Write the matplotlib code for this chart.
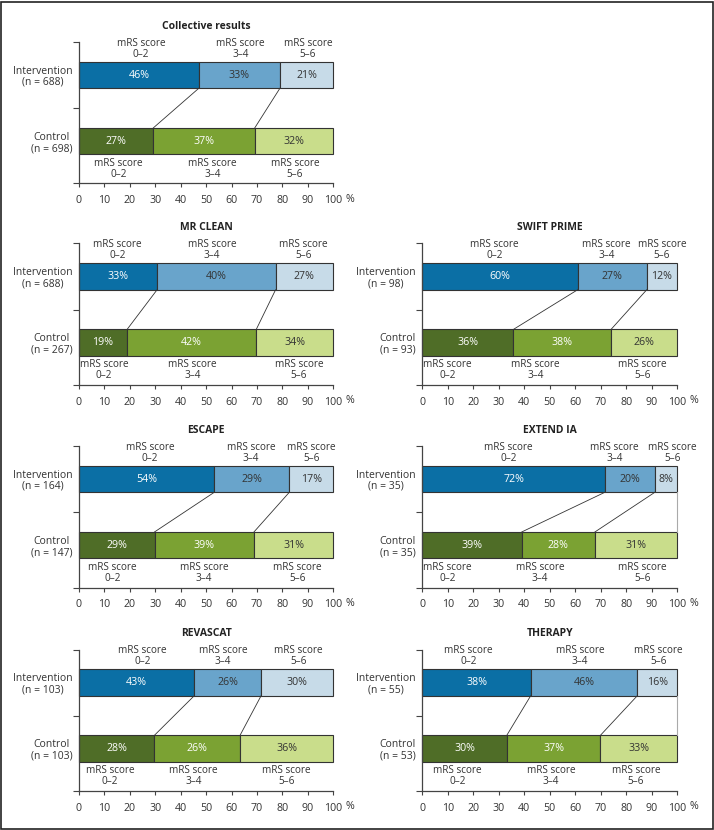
import matplotlib.pyplot as plt
from matplotlib.patches import Rectangle

plt.rcParams['font.family'] = ['Open Sans', 'DejaVu Sans']

# data
panels = ["Collective results", "MR CLEAN", "SWIFT PRIME", "ESCAPE",
          "EXTEND IA", "REVASCAT", "THERAPY"]
n_int = [688, 688, 98, 164, 35, 103, 55]
n_ctrl = [698, 267, 93, 147, 35, 103, 53]

# printed percentages
int_pct = [[46, 33, 21], [33, 40, 27], [60, 27, 12], [54, 29, 17],
           [72, 20, 8], [43, 26, 30], [38, 46, 16]]
ctrl_pct = [[27, 37, 32], [19, 42, 34], [36, 38, 26], [29, 39, 31],
            [39, 28, 31], [28, 26, 36], [30, 37, 33]]

# drawn segment widths (as measured on the bars)
int_width = [[47.1, 31.9, 21.0], [30.7, 46.6, 22.7], [60.9, 27.1, 12.0],
             [53.2, 29.5, 17.3], [71.6, 19.6, 8.8], [45.3, 26.3, 28.4],
             [42.5, 41.8, 15.7]]
ctrl_width = [[29.2, 39.9, 30.9], [18.9, 50.8, 30.3], [35.7, 38.3, 26.0],
              [29.7, 39.1, 31.2], [39.0, 28.7, 32.3], [29.6, 33.7, 36.7],
              [33.1, 36.7, 30.2]]

groups = ["0\u20132", "3\u20134", "5\u20136"]
xticks = [0, 10, 20, 30, 40, 50, 60, 70, 80, 90, 100]

# layout: where the "mRS score" captions sit (x in %)
int_lab_x = [[24.4, 63.6, 90.0], [15.1, 52.3, 88.2], [28.2, 72.3, 94.0],
             [27.9, 67.6, 91.3], [33.7, 75.3, 98.0], [24.9, 56.7, 86.2],
             [18.0, 61.8, 92.5]]
ctrl_lab_x = [[15.5, 52.4, 84.9], [9.8, 44.6, 86.5], [9.8, 44.4, 86.3],
              [13.2, 49.1, 86.0], [9.8, 46.1, 86.3], [12.2, 45.0, 81.6],
              [13.9, 50.5, 83.8]]
grid = [(0, 0), (0, 1), (1, 1), (0, 2), (1, 2), (0, 3), (1, 3)]
right_rule = [False, False, False, False, True, False, True]

blues = ['#0b6fa5', '#69a4cb', '#c7dbe8']
greens = ['#4f6d27', '#7ba233', '#c9dd8b']
int_txt = ['white', '#333333', '#333333']
ctrl_txt = ['white', 'white', '#333333']

W, H = 714, 830
col_left = [79, 422.3]
col_w = [254.3, 255]
row_top = [42, 243.5, 446, 649.5]
ax_h = 141.5
ylo, yhi = -0.64, 1.5
bh = 0.4
dark = '#333333'

fig = plt.figure(figsize=(W / 100, H / 100), dpi=100)

for i, name in enumerate(panels):
    c, r = grid[i]
    ax = fig.add_axes([col_left[c] / W, 1 - (row_top[r] + ax_h) / H,
                       col_w[c] / W, ax_h / H])

    li, lc = 0, 0
    bi, bc = [], []
    for k in range(3):
        ax.barh(1, int_width[i][k], left=li, height=bh, color=blues[k],
                edgecolor=dark, linewidth=0.8, clip_on=False)
        ax.text(li + int_width[i][k] / 2, 1, f"{int_pct[i][k]}%",
                ha='center', va='center', fontsize=7.7, color=int_txt[k])
        ax.barh(0, ctrl_width[i][k], left=lc, height=bh, color=greens[k],
                edgecolor=dark, linewidth=0.8, clip_on=False)
        ax.text(lc + ctrl_width[i][k] / 2, 0, f"{ctrl_pct[i][k]}%",
                ha='center', va='center', fontsize=7.7, color=ctrl_txt[k])
        li += int_width[i][k]
        lc += ctrl_width[i][k]
        bi.append(li)
        bc.append(lc)

        ax.text(int_lab_x[i][k], 1.398, "mRS score\n" + groups[k],
                ha='center', va='center', fontsize=7.2, linespacing=0.95,
                color=dark)
        ax.text(ctrl_lab_x[i][k], -0.417, "mRS score\n" + groups[k],
                ha='center', va='center', fontsize=7.2, linespacing=0.95,
                color=dark)

    # connector lines between the two bars
    for k in range(2):
        ax.plot([bi[k], bc[k]], [1 - bh / 2, bh / 2], color=dark, lw=0.6)
    if right_rule[i]:
        ax.plot([100, 100], [1 - bh / 2, bh / 2], color='#aaaaaa', lw=0.8,
                clip_on=False)

    ax.set_xlim(0, 100)
    ax.set_ylim(ylo, yhi)
    ax.spines['top'].set_visible(False)
    ax.spines['right'].set_visible(False)
    for s in ['left', 'bottom']:
        ax.spines[s].set_color('#444444')
        ax.spines[s].set_linewidth(0.9)

    ax.set_xticks(xticks)
    ax.set_xticklabels([str(t) for t in xticks], fontsize=7.7, color=dark)
    ax.tick_params(axis='x', direction='out', length=3, width=0.8,
                   color='#444444', pad=5.5)
    ax.annotate("%", xy=(1, 0), xycoords='axes fraction', xytext=(12.0, -11.3),
                textcoords='offset points', ha='center', va='center',
                fontsize=7.7, color=dark)

    ax.set_yticks([1, 0])
    ax.set_yticklabels([f"Intervention\n(n = {n_int[i]})",
                        f"Control\n(n = {n_ctrl[i]})"],
                       fontsize=7.5, color=dark, multialignment='center',
                       linespacing=1.05)
    ax.tick_params(axis='y', length=0, pad=4.5)
    ax.set_yticks([ylo, 0.5, 1.5], minor=True)
    ax.tick_params(axis='y', which='minor', direction='out', length=4.5,
                   width=0.8, color='#444444')

    ax.annotate(name, xy=(0.5, 1), xycoords='axes fraction', xytext=(0, 11.5),
                textcoords='offset points', ha='center', va='center',
                fontsize=7.5, fontweight='bold', color='#222222')

fig.add_artist(Rectangle((0.001, 0.001), 0.997, 0.997, transform=fig.transFigure,
                         fill=False, edgecolor='#222222', linewidth=1.2))

fig.savefig('out.png', dpi=100)
